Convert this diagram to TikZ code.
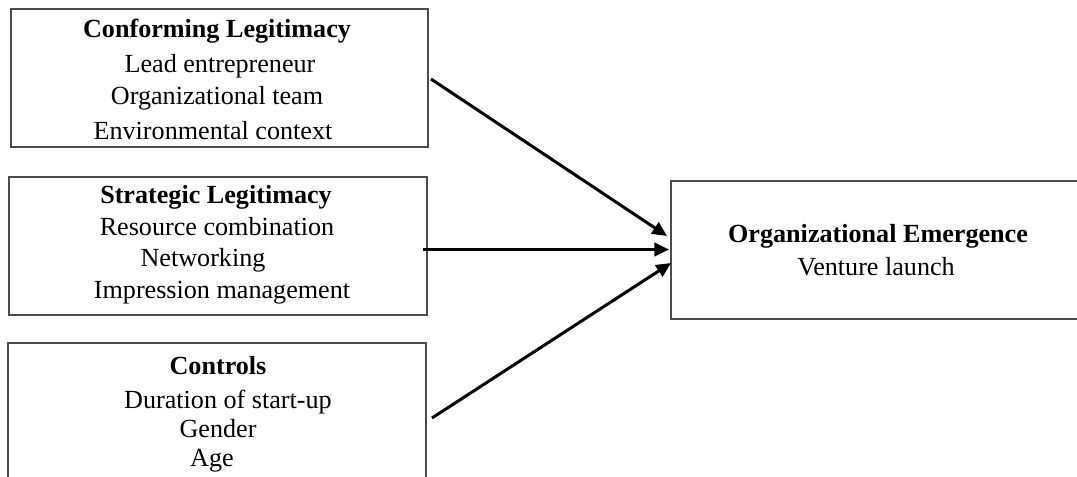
\documentclass[tikz,border=0pt]{standalone}
\usepackage{fontspec}
\setmainfont{Liberation Serif}
\usetikzlibrary{arrows.meta}
\tikzset{
  box/.style={draw=black!70, line width=0.8pt, inner sep=0pt, fill=none},
  txt/.style={anchor=base, inner sep=0pt, font=\fontsize{19.6}{23}\selectfont},
  ttl/.style={txt, font=\fontsize{19.6}{23}\selectfont\bfseries},
  arr/.style={line width=2.25pt, -{Triangle[length=11pt,width=10pt]}},
}
\begin{document}
\begin{tikzpicture}[x=0.75pt,y=-0.75pt]
\useasboundingbox (0,0) rectangle (1077,477);
% boxes
\node[box, minimum width=417*0.75pt, minimum height=138*0.75pt] (b1) at (219.5,78) {};
\node[box, minimum width=418*0.75pt, minimum height=138*0.75pt] (b2) at (218,246) {};
\node[box, minimum width=418*0.75pt, minimum height=138*0.75pt] (b3) at (217,412) {};
\node[box, minimum width=414*0.75pt, minimum height=138*0.75pt] (rb) at (878,250) {};
% box 1 text
\node[ttl] (t11) at (217,38) {Conforming Legitimacy};
\node[txt] (t12) at (220,73) {Lead entrepreneur};
\node[txt] (t13) at (217,105) {Organizational team};
\node[txt] (t14) at (213,140) {Environmental context};
% box 2 text
\node[ttl] (t21) at (216,204) {Strategic Legitimacy};
\node[txt] (t22) at (217,236) {Resource combination};
\node[txt] (t23) at (203,267) {Networking};
\node[txt] (t24) at (222,298) {Impression management};
% box 3 text
\node[ttl] (t31) at (218,374) {Controls};
\node[txt] (t32) at (228,408) {Duration of start-up};
\node[txt] (t33) at (218,437) {Gender};
\node[txt] (t34) at (212,466) {Age};
% right box text
\node[ttl] (t41) at (878,243) {Organizational Emergence};
\node[txt] (t42) at (876,276) {Venture launch};
% arrows
\coordinate (s1) at (431,79);
\coordinate (e1) at (667,236);
\coordinate (s2) at (423,249.5);
\coordinate (e2) at (669,249.5);
\coordinate (s3) at (432,418);
\coordinate (e3) at (671,263);
\draw[arr] (s1) -- (e1);
\draw[arr] (s2) -- (e2);
\draw[arr] (s3) -- (e3);
\end{tikzpicture}
\end{document}
